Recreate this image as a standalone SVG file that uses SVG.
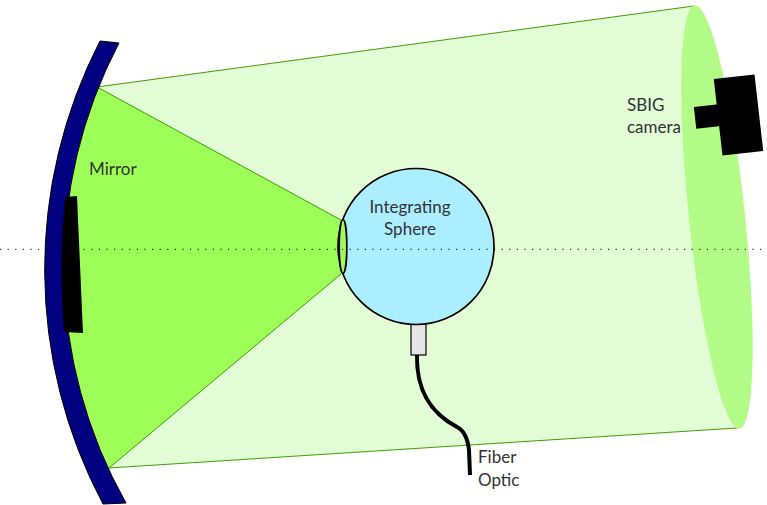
<svg xmlns="http://www.w3.org/2000/svg" width="767" height="505" viewBox="0 0 767 505">
  <style>
    .label { font-family: Lato, "DejaVu Sans", sans-serif; font-size: 17px; fill: #333333; }
    .beam { stroke: #3f9f00; stroke-width: 1; }
    .outline { stroke: #000000; stroke-width: 1.7; }
  </style>
  <rect width="767" height="505" fill="#ffffff"/>

  <!-- wide beam from the mirror to the camera -->
  <g id="beam-wide">
    <path d="M 97,87 L 694,6 L 737,428 L 109,468 A 481 481 0 0 1 97,87 Z" fill="#e2fdd6" stroke="none"/>
    <line class="beam" x1="97" y1="87" x2="694" y2="6"/>
    <line class="beam" x1="109" y1="468" x2="737" y2="428"/>
  </g>

  <!-- camera aperture -->
  <g id="camera-aperture">
    <ellipse cx="717" cy="217" rx="28" ry="213" fill="#b2fb86" transform="rotate(-6 717 217)"/>
  </g>

  <!-- camera body -->
  <g id="camera" transform="rotate(-6.5 738.5 115)">
    <rect x="718" y="76.5" width="41" height="77" fill="#000000"/>
    <rect x="695" y="102" width="25" height="22" fill="#000000"/>
  </g>

  <!-- converging cone from the mirror to the sphere port -->
  <g id="beam-cone">
    <path d="M 97,87 L 341,220 L 341,274 L 109,468 A 481 481 0 0 1 97,87 Z" fill="#9dfe58" stroke="none"/>
    <line class="beam" x1="97" y1="87" x2="341" y2="220"/>
    <line class="beam" x1="109" y1="468" x2="341" y2="274"/>
  </g>

  <!-- mirror -->
  <g id="mirror">
    <path d="M 100,41 A 500 500 0 0 0 103,504 L 126,503 A 481 481 0 0 1 119,43 Z" fill="#000080" stroke="#000000" stroke-width="1"/>
    <path d="M 65,197 L 77,196 L 83,333 L 64,332 Q 58.5,264 65,197 Z" fill="#000000"/>
  </g>

  <!-- fibre optic feed -->
  <g id="fiber">
    <path d="M 417,355 C 416,400 440,418 457,427 Q 467,432 469,450 L 470,475" fill="none" stroke="#000000" stroke-width="4"/>
    <rect x="411" y="320" width="15" height="35" fill="#e6e6e6" stroke="#000000" stroke-width="1.2"/>
  </g>

  <!-- integrating sphere -->
  <g id="sphere">
    <circle cx="416" cy="246.5" r="78" fill="#aaeeff" class="outline"/>
    <ellipse cx="343" cy="246.5" rx="3.8" ry="27" fill="#9dfe58" class="outline"/>
    <text class="label" x="410" y="213" text-anchor="middle">Integrating</text>
    <text class="label" x="410" y="235" text-anchor="middle">Sphere</text>
  </g>

  <!-- labels -->
  <g id="labels">
    <text class="label" x="89" y="175">Mirror</text>
    <text class="label" x="627" y="111">SBIG</text>
    <text class="label" x="627" y="133">camera</text>
    <text class="label" x="478" y="463">Fiber</text>
    <text class="label" x="478" y="486">Optic</text>
  </g>

  <!-- optical axis -->
  <g id="connectors">
    <line x1="0" y1="249.3" x2="767" y2="249.3" stroke="#000000" stroke-width="1" stroke-dasharray="1.2 6.4"/>
  </g>
</svg>
